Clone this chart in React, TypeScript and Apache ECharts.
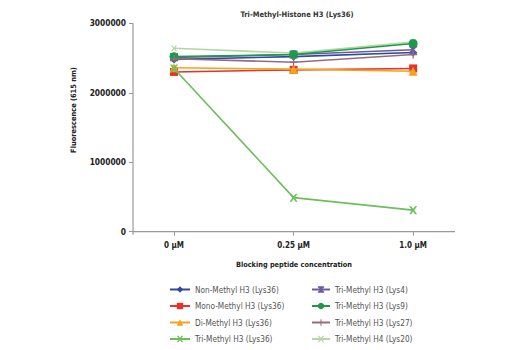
import React, { useEffect, useRef } from "react";
import * as echarts from "echarts";

const categories = ["0 µM", "0.25 µM", "1.0 µM"];
const seriesNames = [
  "Non-Methyl H3 (Lys36)",
  "Mono-Methyl H3 (Lys36)",
  "Di-Methyl H3 (Lys36)",
  "Tri-Methyl H3 (Lys36)",
  "Tri-Methyl H3 (Lys4)",
  "Tri-Methyl H3 (Lys9)",
  "Tri-Methyl H3 (Lys27)",
  "Tri-Methyl H4 (Lys20)",
];
const nonMethylK36 = [2480000, 2520000, 2580000];
const monoMethylK36 = [2300000, 2330000, 2350000];
const diMethylK36 = [2360000, 2340000, 2310000];
const triMethylK36 = [2350000, 490000, 310000];
const triMethylK4 = [2510000, 2550000, 2620000];
const triMethylK9 = [2520000, 2550000, 2710000];
const triMethylK27 = [2490000, 2440000, 2550000];
const triMethylH4K20 = [2640000, 2570000, 2730000];
const yTicks = [0, 1000000, 2000000, 3000000];

const allValues = [
  nonMethylK36,
  monoMethylK36,
  diMethylK36,
  triMethylK36,
  triMethylK4,
  triMethylK9,
  triMethylK27,
  triMethylH4K20,
];
const colors = ["#2e4b9b", "#e5322d", "#f5a31a", "#6dbe5c", "#6a5aa6", "#1c9a4a", "#9a6a7c", "#b3d7a2"];
const symbols = [
  "diamond",
  "rect",
  "triangle",
  "path://M0,0L2.5,0L5,3.2L7.5,0L10,0L6.4,5L10,10L7.5,10L5,6.8L2.5,10L0,10L3.6,5Z",
  "path://M0,0L10,0L10,1.5L6,5L10,8.5L10,10L0,10L0,8.5L4,5L0,1.5Z",
  "circle",
  "path://M4.2,0L5.8,0L5.8,4.2L10,4.2L10,5.8L5.8,5.8L5.8,10L4.2,10L4.2,5.8L0,5.8L0,4.2L4.2,4.2Z",
  "path://M0,0L2,0L5,3.5L8,0L10,0L6.5,5L10,10L8,10L5,6.5L2,10L0,10L3.5,5Z",
];
const symbolSizes = [8, 8, 9, 8, 8, 9, 8, 6];

// layout: padding (in category units) between the y axis and the first category
const X_PAD = 0.343;
const X_SPAN = 2.693;
const Y_MAX = 3000000;

const FONT = "'DejaVu Sans Condensed', sans-serif";
const AXIS_COLOR = "#999";

export default function App() {
  const ref = useRef<HTMLDivElement>(null);
  useEffect(() => {
    if (!ref.current) return;
    const chart = echarts.init(ref.current, null, { renderer: "svg" });
    const tickPos = categories.map((_, j) => j + X_PAD);
    const series = seriesNames.map((name, i) => ({
      name,
      type: "line",
      data: allValues[i].map((v, j) => [j + X_PAD, v]),
      symbol: symbols[i],
      symbolSize: symbolSizes[i],
      showAllSymbol: true,
      lineStyle: { width: 1.6, color: colors[i] },
      itemStyle: { color: colors[i] },
      z: i === 7 ? 1 : 2 + i,
    }));
    const legendText = { fontFamily: FONT, fontSize: 8.2, color: "#555", lineHeight: 10 };
    const legendCommon = {
      orient: "vertical",
      top: 279.5,
      itemHeight: 8,
      itemGap: 6.5,
      height: 70,
      textStyle: legendText,
    };
    chart.setOption({
      animation: false,
      color: colors,
      title: {
        text: "Tri-Methyl-Histone H3 (Lys36)",
        left: 292,
        top: 5,
        textAlign: "center",
        textStyle: { fontFamily: FONT, fontSize: 7.5, fontWeight: "bold", color: "#333" },
      },
      grid: { left: 133, top: 23.3, width: 322, height: 208.4 },
      xAxis: {
        type: "value",
        min: 0,
        max: X_SPAN,
        name: "Blocking peptide concentration",
        nameLocation: "middle",
        nameGap: 29,
        nameTextStyle: { fontFamily: FONT, fontSize: 7.3, fontWeight: "bold", color: "#222" },
        axisLine: { show: false, onZero: false },
        axisTick: { show: true, customValues: tickPos, length: 4, lineStyle: { color: AXIS_COLOR } },
        axisLabel: {
          customValues: tickPos,
          formatter: (v: number) => categories[Math.round(v - X_PAD)] ?? "",
          fontFamily: FONT,
          fontSize: 8,
          fontWeight: "bold",
          color: "#222",
          margin: 10,
        },
        splitLine: { show: false },
        axisPointer: { show: false },
      },
      yAxis: {
        type: "value",
        min: 0,
        max: Y_MAX,
        interval: 1000000,
        axisLine: { show: false, onZero: false },
        axisTick: { show: true, length: 4, lineStyle: { color: AXIS_COLOR } },
        axisLabel: {
          formatter: (v: number) => (yTicks.includes(v) ? String(v) : ""),
          fontFamily: FONT,
          fontSize: 8.3,
          fontWeight: "bold",
          color: "#222",
          margin: 7,
        },
        splitLine: { show: false },
        axisPointer: { show: false },
      },
      legend: [
        {
          ...legendCommon,
          data: seriesNames.slice(0, 4),
          left: 164,
          itemWidth: 20,
        },
        {
          ...legendCommon,
          data: seriesNames.slice(4),
          left: 306,
          itemWidth: 18,
        },
      ],
      series,
    });
    // axis lines placed through the chart's own scales
    const origin = chart.convertToPixel({ xAxisIndex: 0, yAxisIndex: 0 }, [0, 0]) as number[];
    const corner = chart.convertToPixel({ xAxisIndex: 0, yAxisIndex: 0 }, [X_SPAN, Y_MAX]) as number[];
    chart.setOption({
      graphic: [
        {
          id: "yname",
          type: "text",
          x: 73,
          y: 110,
          rotation: Math.PI / 2,
          style: {
            text: "Fluorescence (615 nm)",
            fontFamily: FONT,
            fontSize: 7.4,
            fontWeight: "bold",
            fill: "#222",
            textAlign: "center",
            textVerticalAlign: "middle",
          },
        },
        {
          id: "yline",
          type: "line",
          shape: { x1: origin[0], y1: corner[1], x2: origin[0], y2: origin[1] + 3 },
          style: { stroke: AXIS_COLOR, lineWidth: 1.2 },
          silent: true,
        },
        {
          id: "xline",
          type: "line",
          shape: { x1: origin[0], y1: origin[1], x2: corner[0], y2: origin[1] },
          style: { stroke: AXIS_COLOR, lineWidth: 1.2 },
          silent: true,
        },
      ],
    });
    return () => chart.dispose();
  }, []);
  return (
    <div
      ref={ref}
      style={{ position: "absolute", left: 0, top: 0, width: 520, height: 350 }}
    />
  );
}
